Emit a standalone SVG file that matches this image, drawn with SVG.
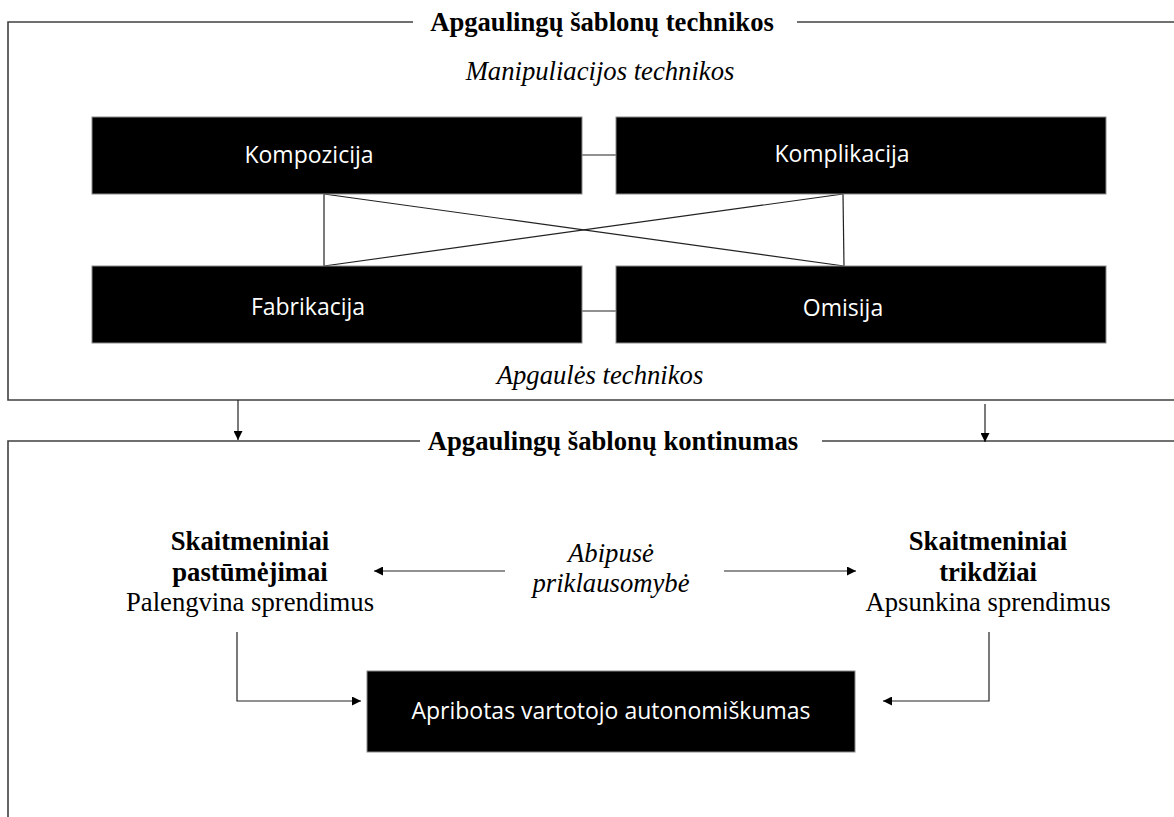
<svg xmlns="http://www.w3.org/2000/svg" width="1174" height="817" viewBox="0 0 1174 817">
  <style>
    .frame { fill: none; stroke: #404040; stroke-width: 1.6; }
    .link { fill: none; stroke: #222; stroke-width: 1.2; }
    .box { fill: #000; stroke: #8a8a8a; stroke-width: 1; }
    .boxtxt { font-family: "Open Sans", "Noto Sans", sans-serif; font-size: 23px; fill: #fff; text-anchor: middle; }
    .title { font-family: "Liberation Serif", "Times New Roman", serif; font-size: 26.67px; font-weight: bold; fill: #000; text-anchor: middle; }
    .ital { font-family: "Liberation Serif", "Times New Roman", serif; font-size: 26.67px; font-style: italic; fill: #000; text-anchor: middle; }
    .bold { font-family: "Liberation Serif", "Times New Roman", serif; font-size: 26.67px; font-weight: bold; fill: #000; text-anchor: middle; }
    .reg { font-family: "Liberation Serif", "Times New Roman", serif; font-size: 26.67px; fill: #000; text-anchor: middle; }
  </style>
  <defs>
    <marker id="arrow" viewBox="0 0 10 10" refX="10" refY="5" markerWidth="9" markerHeight="9" markerUnits="userSpaceOnUse" orient="auto">
      <path d="M0,0 L10,5 L0,10 z" fill="#000"/>
    </marker>
  </defs>
  <rect width="1174" height="817" fill="#fff"/>

  <!-- upper frame: deception pattern techniques -->
  <g id="frame-techniques">
    <path class="frame" d="M413,22 H8 V400 H1174"/>
    <path class="frame" d="M797,22 H1174"/>
    <text class="title" x="602" y="31">Apgaulingų šablonų technikos</text>
    <text class="ital" x="600" y="80">Manipuliacijos technikos</text>
    <text class="ital" x="600" y="384">Apgaulės technikos</text>
  </g>

  <!-- lower frame: continuum -->
  <g id="frame-continuum">
    <path class="frame" d="M420,441 H8 V817"/>
    <path class="frame" d="M822,441 H1174"/>
    <text class="title" x="613" y="450">Apgaulingų šablonų kontinumas</text>
  </g>

  <!-- connectors -->
  <g id="connectors">
    <line class="link" x1="582" y1="155" x2="616" y2="155"/>
    <line class="link" x1="582" y1="311" x2="616" y2="311"/>
    <line class="link" x1="324" y1="194" x2="324" y2="266"/>
    <line class="link" x1="843" y1="194" x2="844" y2="266"/>
    <line class="link" x1="324" y1="194" x2="844" y2="266"/>
    <line class="link" x1="324" y1="266" x2="843" y2="194"/>
    <line class="link" x1="238" y1="400" x2="238" y2="440" marker-end="url(#arrow)"/>
    <line class="link" x1="985" y1="404" x2="985" y2="442" marker-end="url(#arrow)"/>
    <line class="link" x1="505" y1="571" x2="374" y2="571" marker-end="url(#arrow)"/>
    <line class="link" x1="724" y1="571" x2="856" y2="571" marker-end="url(#arrow)"/>
    <polyline class="link" points="237,632 237,701 361,701" marker-end="url(#arrow)"/>
    <polyline class="link" points="989,632 989,701 883,701" marker-end="url(#arrow)"/>
  </g>

  <g id="node-kompozicija">
    <rect class="box" x="92" y="117" width="490" height="77"/>
    <text class="boxtxt" x="309" y="163">Kompozicija</text>
  </g>
  <g id="node-komplikacija">
    <rect class="box" x="616" y="117" width="490" height="77"/>
    <text class="boxtxt" x="842" y="162">Komplikacija</text>
  </g>
  <g id="node-fabrikacija">
    <rect class="box" x="92" y="266" width="490" height="77"/>
    <text class="boxtxt" x="308" y="315">Fabrikacija</text>
  </g>
  <g id="node-omisija">
    <rect class="box" x="616" y="266" width="490" height="77"/>
    <text class="boxtxt" x="843" y="316">Omisija</text>
  </g>

  <g id="node-pastumejimai">
    <text class="bold" x="250" y="550">Skaitmeniniai</text>
    <text class="bold" x="250" y="581">pastūmėjimai</text>
    <text class="reg" x="250" y="611">Palengvina sprendimus</text>
  </g>
  <g id="node-abipuse">
    <text class="ital" x="611" y="562">Abipusė</text>
    <text class="ital" x="611" y="592">priklausomybė</text>
  </g>
  <g id="node-trikdziai">
    <text class="bold" x="988" y="550">Skaitmeniniai</text>
    <text class="bold" x="988" y="581">trikdžiai</text>
    <text class="reg" x="988" y="611">Apsunkina sprendimus</text>
  </g>
  <g id="node-autonomiskumas">
    <rect class="box" x="367" y="671" width="488" height="81"/>
    <text class="boxtxt" x="611" y="719">Apribotas vartotojo autonomiškumas</text>
  </g>
</svg>
